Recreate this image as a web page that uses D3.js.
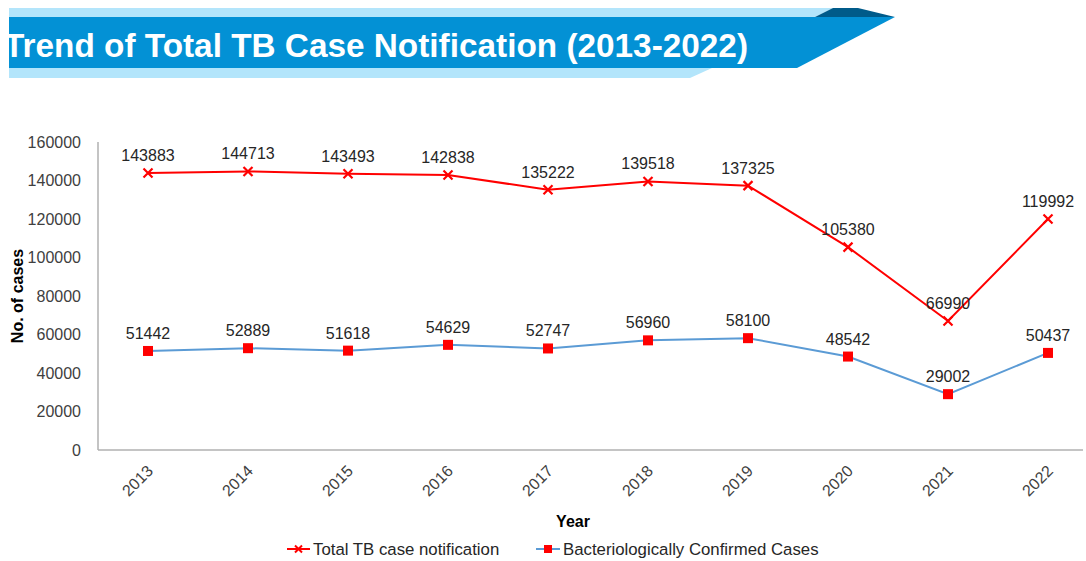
<!doctype html>
<html>
<head>
<script src="https://d3js.org/d3.v7.min.js"></script>
<style>
  body { margin: 0; background: #fff; }
  text { font-family: "Liberation Sans", Arial, sans-serif; }
</style>
</head>
<body>
<svg width="1086" height="561"></svg>
<script>
// data
var years = ["2013", "2014", "2015", "2016", "2017", "2018", "2019", "2020", "2021", "2022"];
var totalCases = [143883, 144713, 143493, 142838, 135222, 139518, 137325, 105380, 66990, 119992];
var bactConfirmed = [51442, 52889, 51618, 54629, 52747, 56960, 58100, 48542, 29002, 50437];
var yTicks = [0, 20000, 40000, 60000, 80000, 100000, 120000, 140000, 160000];
var titleText = "Trend of Total TB Case Notification (2013-2022)";

var svg = d3.select("svg");

// ---- title banner ----
var banner = svg.append("g");
banner.append("path")   // light band top
  .attr("d", "M9,8 L833,8 L815,17 L9,17 Z").attr("fill", "#b3e5fb");
banner.append("path")   // light band bottom
  .attr("d", "M9,68 L712,68 L690,78 L9,78 Z").attr("fill", "#b3e5fb");
banner.append("path")   // dark corner
  .attr("d", "M833,8 L858,8 L895,17 L815,17 Z").attr("fill", "#005b8a");
banner.append("path")   // main band
  .attr("d", "M9,17 L895,17 L797,68 L9,68 Z").attr("fill", "#0391d5");

svg.append("clipPath").attr("id", "tclip")
  .append("rect").attr("x", 9).attr("y", 0).attr("width", 900).attr("height", 90);

svg.append("text")
  .attr("clip-path", "url(#tclip)")
  .attr("x", 4)
  .attr("y", 57)
  .attr("textLength", 744)
  .attr("lengthAdjust", "spacingAndGlyphs")
  .style("font-size", "33px")
  .style("font-weight", "bold")
  .style("fill", "#fff")
  .text(titleText);

// ---- chart ----
var plotLeft = 98, plotTop = 142, plotBottom = 450;

var x = d3.scaleBand().domain(years).range([plotLeft, plotLeft + 1000]);
var y = d3.scaleLinear().domain([0, 160000]).range([plotBottom, plotTop]);
var cx = function (d, i) { return x(years[i]) + x.bandwidth() / 2; };

// axes
svg.append("line")
  .attr("x1", plotLeft).attr("x2", plotLeft).attr("y1", y(160000)).attr("y2", plotBottom)
  .style("stroke", "#b0b0b0").style("stroke-width", 1.5);
svg.append("line")
  .attr("x1", plotLeft).attr("x2", 1083).attr("y1", plotBottom).attr("y2", plotBottom)
  .style("stroke", "#b0b0b0").style("stroke-width", 1.5);

var yAxis = svg.append("g")
  .attr("transform", "translate(" + (plotLeft - 14) + ",0)")
  .call(d3.axisLeft(y).tickValues(yTicks).tickSize(0).tickFormat(d3.format("d")));
yAxis.select(".domain").remove();
yAxis.selectAll("text")
  .style("font-size", "16px")
  .style("font-family", "Liberation Sans, Arial, sans-serif")
  .style("fill", "#404040");

var xAxis = svg.append("g")
  .attr("transform", "translate(0," + plotBottom + ")")
  .call(d3.axisBottom(x).tickSize(0));
xAxis.select(".domain").remove();
xAxis.selectAll("text")
  .attr("x", 0).attr("y", 0).attr("dy", 0)
  .attr("text-anchor", "end")
  .attr("transform", "translate(6,22) rotate(-45)")
  .style("font-size", "16px")
  .style("font-family", "Liberation Sans, Arial, sans-serif")
  .style("fill", "#404040");

// axis titles
svg.append("text")
  .attr("text-anchor", "middle")
  .attr("transform", "translate(23,296) rotate(-90)")
  .style("font-size", "16px")
  .style("font-weight", "bold")
  .style("fill", "#000")
  .text("No. of cases");

svg.append("text")
  .attr("x", 573).attr("y", 527)
  .attr("text-anchor", "middle")
  .style("font-size", "16px")
  .style("font-weight", "bold")
  .style("fill", "#000")
  .text("Year");

// lines
var line = d3.line()
  .x(function (d, i) { return cx(d, i); })
  .y(function (d) { return y(d); });

svg.append("path")
  .datum(totalCases)
  .attr("d", line)
  .style("fill", "none").style("stroke", "#ff0000").style("stroke-width", 2);

svg.append("path")
  .datum(bactConfirmed)
  .attr("d", line)
  .style("fill", "none").style("stroke", "#5b9bd5").style("stroke-width", 2);

// markers
function crossPath(px, py, s) {
  return "M" + (px - s) + "," + (py - s) + "L" + (px + s) + "," + (py + s) +
         "M" + (px - s) + "," + (py + s) + "L" + (px + s) + "," + (py - s);
}

svg.append("g").selectAll("path")
  .data(totalCases).enter().append("path")
  .attr("d", function (d, i) { return crossPath(cx(d, i), y(d), 4.5); })
  .style("stroke", "#ff0000").style("stroke-width", 2.2).style("fill", "none");

svg.append("g").selectAll("rect")
  .data(bactConfirmed).enter().append("rect")
  .attr("x", function (d, i) { return cx(d, i) - 5; })
  .attr("y", function (d) { return y(d) - 5; })
  .attr("width", 10).attr("height", 10)
  .style("fill", "#ff0000");

// data labels
[totalCases, bactConfirmed].forEach(function (series) {
  svg.append("g").selectAll("text")
    .data(series).enter().append("text")
    .attr("x", function (d, i) { return cx(d, i); })
    .attr("y", function (d) { return y(d) - 12; })
    .attr("text-anchor", "middle")
    .style("font-size", "16px")
    .style("fill", "#262626")
    .text(function (d) { return d; });
});

// legend
var lg = svg.append("g");
lg.append("line").attr("x1", 287).attr("x2", 310).attr("y1", 549).attr("y2", 549)
  .style("stroke", "#ff0000").style("stroke-width", 2);
lg.append("path").attr("d", crossPath(298.5, 549, 3.5))
  .style("stroke", "#ff0000").style("stroke-width", 2).style("fill", "none");
lg.append("text").attr("x", 313).attr("y", 555)
  .style("font-size", "16.8px").style("fill", "#262626")
  .text("Total TB case notification");

lg.append("line").attr("x1", 536).attr("x2", 560).attr("y1", 549).attr("y2", 549)
  .style("stroke", "#5b9bd5").style("stroke-width", 2);
lg.append("rect").attr("x", 544).attr("y", 545).attr("width", 8).attr("height", 8)
  .style("fill", "#ff0000");
lg.append("text").attr("x", 563).attr("y", 555)
  .style("font-size", "16.8px").style("fill", "#262626")
  .text("Bacteriologically Confirmed Cases");
</script>
</body>
</html>
